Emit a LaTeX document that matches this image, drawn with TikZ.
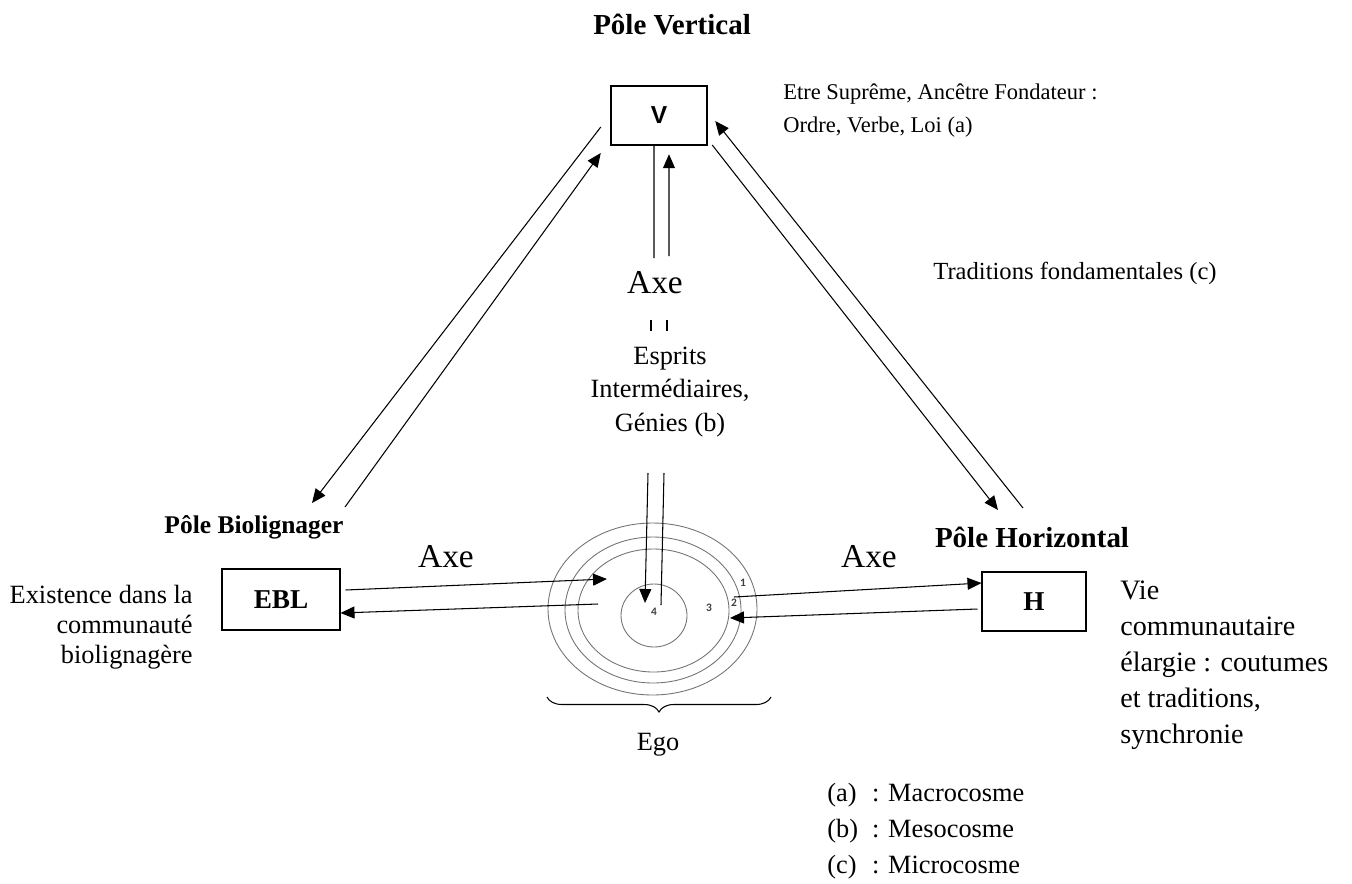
\documentclass[tikz,border=0pt]{standalone}
\usepackage{fontspec}
\setmainfont{Liberation Serif}
\newfontfamily\arialfont{Liberation Sans}
\newfontfamily\calibrifont{Carlito}
\usetikzlibrary{arrows.meta,decorations.pathreplacing,positioning}
\tikzset{pole box/.style={rectangle,draw,line width=0.6pt,inner sep=0pt,font=\fontsize{15.5}{18}\selectfont\bfseries},
         pole title/.style={inner sep=0pt,font=\fontsize{15}{18}\selectfont\bfseries},
         big text/.style={inner sep=0pt,font=\fontsize{15}{19}\selectfont},
         axe text/.style={inner sep=0pt,font=\fontsize{19}{22}\selectfont},
         small text/.style={inner sep=0pt,font=\fontsize{12.8}{18.8}\selectfont},
         ring/.style={draw=black!55,line width=0.5pt},
         ring num/.style={inner sep=0pt,text=black!75,font=\calibrifont\fontsize{6.5}{7}\selectfont\bfseries},
         flow/.style={line width=0.6pt,-{Triangle[length=0.28cm,width=0.24cm]}},
         plain flow/.style={line width=0.6pt}
}
\begin{document}
\begin{tikzpicture}[x=0.02cm,y=-0.02cm]
\useasboundingbox (0,0) rectangle (1352,883);
% pole vertical
\node[pole title,font=\fontsize{16.5}{19}\selectfont\bfseries] (pv) at (672,24) {Pôle Vertical};
\node[pole box,line width=1.4pt,minimum width=1.92cm,minimum height=1.18cm,
      font=\arialfont\fontsize{14}{16}\selectfont\bfseries] (V) at (659,115.5) {V};
\node[small text,align=left,anchor=west] (supreme) at (783,111)
     {Etre Suprême, Ancêtre Fondateur :\\Ordre, Verbe, Loi (a)};
\node[axe text] (axeV) at (655,283) {Axe};
\node[big text,align=center,font=\fontsize{15}{19}\selectfont] (esprits) at (670,392)
     {Esprits\\Intermédiaires,\\Génies (b)};
\node[big text,font=\fontsize{14}{17}\selectfont] (trad) at (1075,273) {Traditions fondamentales (c)};
% les deux autres poles
\node[pole title,font=\fontsize{14.5}{17}\selectfont\bfseries] (pb) at (254,527) {Pôle Biolignager};
\node[pole title,font=\fontsize{16.5}{19}\selectfont\bfseries] (ph) at (1032,537) {Pôle Horizontal};
\node[axe text] (axeL) at (446,557) {Axe};
\node[axe text] (axeR) at (869,557) {Axe};
\node[pole box,minimum width=2.36cm,minimum height=1.22cm] (EBL) at (281,599.5) {EBL};
\node[pole box,minimum width=2.08cm,minimum height=1.18cm] (H) at (1034,601.5) {H};
\node[big text,align=right,anchor=east,font=\fontsize{15}{17}\selectfont] (exist) at (193,627)
     {Existence dans la\\communauté\\biolignagère};
\node[big text,align=left,anchor=west,font=\fontsize{16}{20.5}\selectfont] (vie) at (1120,665)
     {Vie\\communautaire\\élargie : coutumes\\et traditions,\\synchronie};
% ego
\draw[ring] (652.5,609) ellipse [x radius=104.5,y radius=86];
\draw[ring] (653,610) ellipse [x radius=88,y radius=73];
\draw[ring] (653.5,610.5) ellipse [x radius=75.5,y radius=61.5];
\draw[ring] (654,615.5) ellipse [x radius=33,y radius=31.5];
\node[ring num] (n1) at (743,583) {1};
\node[ring num] (n2) at (734,603) {2};
\node[ring num] (n3) at (709,608) {3};
\node[ring num] (n4) at (654,612) {4};
\draw[line width=0.6pt,decorate,decoration={brace,mirror,amplitude=0.3cm}] (547,697) -- (771,697);
\node[big text] (ego) at (658,745) {Ego};
\node[big text,anchor=west,align=left,font=\fontsize{15}{20.5}\selectfont] (legend) at (827,830)
     {\begin{tabular}{@{}l@{\hspace{8pt}}l@{}}(a) & : Macrocosme\\(b) & : Mesocosme\\(c) & : Microcosme\end{tabular}};
% bouts des fleches
\coordinate (bl1) at (312,503);
\coordinate (bl2) at (345,507);
\coordinate (hr1) at (998,510);
\coordinate (hr2) at (1023,508);
\coordinate (va) at (654,258);
\coordinate (vb) at (669,256);
\coordinate (esp1) at (648,473);
\coordinate (esp2) at (664,473);
\coordinate (core1) at (645,603);
\coordinate (core2) at (661,605);
\coordinate (ringL1) at (607,579);
\coordinate (ringL2) at (598,604);
\coordinate (ringR1) at (734,597);
\coordinate (ringR2) at (730,618);
% fleches
\draw[flow] ([xshift=-0.18cm,yshift=-0.23cm]V.west) -- (bl1);
\draw[flow] (bl2) -- ([xshift=-0.18cm,yshift=-0.75cm]V.west);
\draw[flow] ([xshift=0.08cm,yshift=-0.59cm]V.east) -- (hr1);
\draw[flow] (hr2) -- ([xshift=0.14cm,yshift=-0.11cm]V.east);
\draw[plain flow] ([xshift=-0.1cm]V.south) -- (va);
\draw[flow] (vb) -- ([xshift=0.2cm,yshift=-0.16cm]V.south);
\draw[plain flow] (651,320) -- (651,331);
\draw[plain flow] (667,320) -- (667,331);
\draw[flow] (esp1) -- (core1);
\draw[plain flow] (esp2) -- (core2);
\draw[flow] ([xshift=0.1cm,yshift=0.19cm]EBL.east) -- (ringL1);
\draw[flow] (ringL2) -- ([yshift=-0.27cm]EBL.east);
\draw[flow] (ringR1) -- ([yshift=0.37cm]H.west);
\draw[flow] ([xshift=-0.08cm,yshift=-0.15cm]H.west) -- (ringR2);
\end{tikzpicture}
\end{document}
